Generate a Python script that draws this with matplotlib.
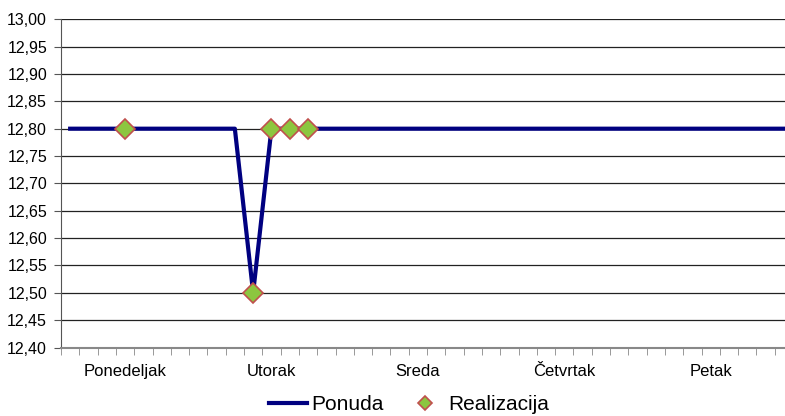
import numpy as np
import matplotlib.pyplot as plt
from matplotlib.ticker import FuncFormatter, FixedLocator

plt.rcParams['font.family'] = ['Liberation Sans', 'DejaVu Sans']

# data: 40 time slots over the working week
n_slots = 40
ponuda = [12.80] * n_slots
ponuda[10] = 12.50

real_slots = [3, 10, 11, 12, 13]
real_values = [12.80, 12.50, 12.80, 12.80, 12.80]

day_labels = ['Ponedeljak', 'Utorak', 'Sreda', 'Četvrtak', 'Petak']
day_slots = [3, 11, 19, 27, 35]

fig = plt.figure(figsize=(7.85, 4.16), dpi=100)
ax = fig.add_axes([61 / 785, 68.5 / 416, 732 / 785, 328.2 / 416])

x = np.arange(n_slots)
ax.plot(x, ponuda, color='#000080', lw=3, label='Ponuda', zorder=3)
ax.plot(real_slots, real_values, ls='none', marker='D', markersize=10,
        markerfacecolor='#8CC63F', markeredgecolor='#C0504D', markeredgewidth=1.2,
        label='Realizacija', zorder=4)

ax.set_xlim(-0.5, n_slots - 0.5)
ax.set_ylim(12.40, 13.00)
ax.set_yticks(np.arange(12.40, 13.001, 0.05))
ax.yaxis.set_major_formatter(FuncFormatter(lambda v, p: f'{v:.2f}'.replace('.', ',')))
ax.grid(axis='y', color='#222222', lw=0.9)
ax.set_axisbelow(True)

ax.xaxis.set_major_locator(FixedLocator(day_slots))
ax.set_xticklabels(day_labels)
ax.xaxis.set_minor_locator(FixedLocator(np.arange(n_slots + 1) - 0.5))
ax.tick_params(axis='x', which='major', length=0, pad=12, labelsize=12)
ax.tick_params(axis='x', which='minor', length=5, color='#888888')
ax.tick_params(axis='y', length=5, pad=5, labelsize=11.5, color='#555555')

for s in ['top', 'right']:
    ax.spines[s].set_visible(False)
ax.spines['left'].set_color('#555555')
ax.spines['bottom'].set_color('#888888')
ax.spines['bottom'].set_linewidth(1.5)

fig.legend(loc='center', bbox_to_anchor=(0.521, 11 / 416), ncol=2, frameon=False,
           fontsize=15, handlelength=1.8, handletextpad=0.2, columnspacing=1.1,
           borderpad=0, markerscale=0.75)

fig.savefig('out.png', dpi=100)
